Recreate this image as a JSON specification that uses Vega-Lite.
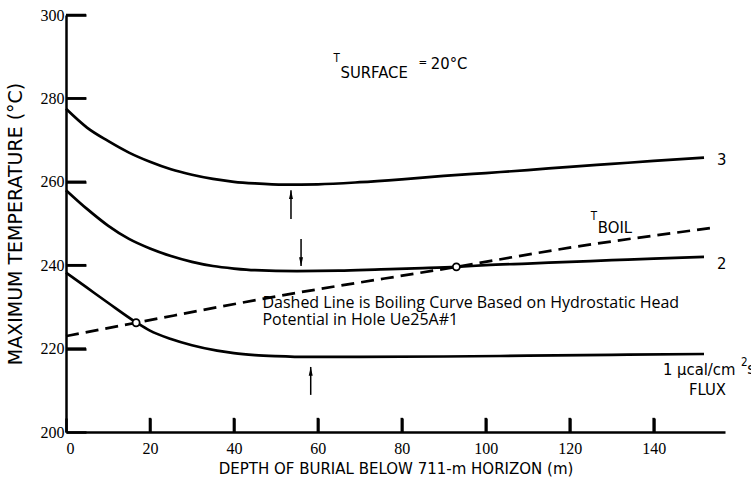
{
  "$schema": "https://vega.github.io/schema/vega-lite/v6.json",
  "width": 659,
  "height": 417,
  "autosize": {"type": "none"},
  "padding": {"left": 66, "top": 15, "right": 26, "bottom": 51},
  "background": "white",
  "config": {
    "view": {"stroke": null},
    "font": "DejaVu Sans Condensed",
    "axis": {
      "grid": false,
      "ticks": true,
      "domainColor": "black",
      "domainWidth": 2.5,
      "tickColor": "black",
      "tickWidth": 2.5,
      "tickOpacity": 1,
      "labelColor": "black",
      "titleColor": "black",
      "labelFont": "Liberation Sans Narrow",
      "titleFont": "DejaVu Sans",
      "labelFontSize": 16,
      "titleFontWeight": "normal"
    }
  },
  "datasets": {
    "curves": [
      {"depth": 0, "temp": 277.5, "series": "3"},
      {"depth": 5, "temp": 273.0, "series": "3"},
      {"depth": 10, "temp": 269.8, "series": "3"},
      {"depth": 15, "temp": 267.0, "series": "3"},
      {"depth": 20, "temp": 264.8, "series": "3"},
      {"depth": 25, "temp": 263.0, "series": "3"},
      {"depth": 30, "temp": 261.7, "series": "3"},
      {"depth": 35, "temp": 260.7, "series": "3"},
      {"depth": 40, "temp": 260.0, "series": "3"},
      {"depth": 45, "temp": 259.6, "series": "3"},
      {"depth": 52, "temp": 259.3, "series": "3"},
      {"depth": 60, "temp": 259.4, "series": "3"},
      {"depth": 70, "temp": 259.9, "series": "3"},
      {"depth": 80, "temp": 260.6, "series": "3"},
      {"depth": 90, "temp": 261.4, "series": "3"},
      {"depth": 100, "temp": 262.1, "series": "3"},
      {"depth": 110, "temp": 262.8, "series": "3"},
      {"depth": 120, "temp": 263.6, "series": "3"},
      {"depth": 130, "temp": 264.3, "series": "3"},
      {"depth": 140, "temp": 265.0, "series": "3"},
      {"depth": 152, "temp": 265.8, "series": "3"},
      {"depth": 0, "temp": 258.0, "series": "2"},
      {"depth": 5, "temp": 253.5, "series": "2"},
      {"depth": 10, "temp": 249.5, "series": "2"},
      {"depth": 15, "temp": 246.3, "series": "2"},
      {"depth": 20, "temp": 244.0, "series": "2"},
      {"depth": 25, "temp": 242.2, "series": "2"},
      {"depth": 30, "temp": 240.8, "series": "2"},
      {"depth": 35, "temp": 239.8, "series": "2"},
      {"depth": 40, "temp": 239.2, "series": "2"},
      {"depth": 45, "temp": 238.8, "series": "2"},
      {"depth": 55, "temp": 238.6, "series": "2"},
      {"depth": 65, "temp": 238.7, "series": "2"},
      {"depth": 75, "temp": 239.0, "series": "2"},
      {"depth": 85, "temp": 239.3, "series": "2"},
      {"depth": 93, "temp": 239.6, "series": "2"},
      {"depth": 100, "temp": 240.0, "series": "2"},
      {"depth": 110, "temp": 240.4, "series": "2"},
      {"depth": 120, "temp": 240.8, "series": "2"},
      {"depth": 130, "temp": 241.2, "series": "2"},
      {"depth": 140, "temp": 241.6, "series": "2"},
      {"depth": 152, "temp": 242.0, "series": "2"},
      {"depth": 0, "temp": 238.2, "series": "1"},
      {"depth": 5, "temp": 234.6, "series": "1"},
      {"depth": 10, "temp": 231.0, "series": "1"},
      {"depth": 16.7, "temp": 226.3, "series": "1"},
      {"depth": 20, "temp": 224.3, "series": "1"},
      {"depth": 25, "temp": 222.3, "series": "1"},
      {"depth": 30, "temp": 220.8, "series": "1"},
      {"depth": 36, "temp": 219.5, "series": "1"},
      {"depth": 40, "temp": 218.9, "series": "1"},
      {"depth": 45, "temp": 218.45, "series": "1"},
      {"depth": 50, "temp": 218.2, "series": "1"},
      {"depth": 58, "temp": 218.0, "series": "1"},
      {"depth": 70, "temp": 218.0, "series": "1"},
      {"depth": 90, "temp": 218.1, "series": "1"},
      {"depth": 110, "temp": 218.3, "series": "1"},
      {"depth": 130, "temp": 218.5, "series": "1"},
      {"depth": 152, "temp": 218.7, "series": "1"},
      {"depth": 0, "temp": 223.0, "series": "boil"},
      {"depth": 16.7, "temp": 226.2, "series": "boil"},
      {"depth": 50, "temp": 232.5, "series": "boil"},
      {"depth": 93, "temp": 239.6, "series": "boil"},
      {"depth": 120, "temp": 244.2, "series": "boil"},
      {"depth": 153.6, "temp": 248.9, "series": "boil"}
    ],
    "crossings": [
      {"depth": 16.7, "temp": 226.2},
      {"depth": 93, "temp": 239.6}
    ],
    "arrows": [
      {"depth": 53.6, "from": 251.1, "to": 258.0, "dir": "up"},
      {"depth": 56, "from": 246.3, "to": 239.8, "dir": "down"},
      {"depth": 58.3, "from": 208.9, "to": 215.6, "dir": "up"}
    ],
    "yticks": [{"v": 220}, {"v": 240}, {"v": 260}, {"v": 280}, {"v": 300}],
    "xticks": [{"v": 20}, {"v": 40}, {"v": 60}, {"v": 80}, {"v": 100}, {"v": 120}, {"v": 140}],
    "notes": [
      {"x": 65.4, "y": 284.9, "label": "SURFACE", "kind": "main"},
      {"x": 86.9, "y": 287.0, "label": "20°C", "kind": "main"},
      {"x": 126.7, "y": 247.7, "label": "BOIL", "kind": "main"},
      {"x": 142.2, "y": 213.7, "label": "1 μcal/cm", "kind": "main"},
      {"x": 162.3, "y": 213.9, "label": "s", "kind": "main"},
      {"x": 148.4, "y": 208.9, "label": "FLUX", "kind": "main"},
      {"x": 155.1, "y": 264.0, "label": "3", "kind": "main"},
      {"x": 155.1, "y": 239.1, "label": "2", "kind": "main"},
      {"x": 63.7, "y": 288.7, "label": "T", "kind": "small"},
      {"x": 84.0, "y": 287.8, "label": "=", "kind": "small"},
      {"x": 125.0, "y": 250.8, "label": "T", "kind": "small"},
      {"x": 160.8, "y": 215.8, "label": "2", "kind": "small"},
      {"x": 46.8, "y": 229.8, "label": "Dashed Line is Boiling Curve Based on Hydrostatic Head", "kind": "para"},
      {"x": 46.8, "y": 225.6, "label": "Potential in Hole Ue25A#1", "kind": "para"}
    ]
  },
  "layer": [
    {
      "data": {"name": "curves"},
      "transform": [{"filter": "datum.series != 'boil'"}],
      "mark": {"type": "line", "color": "black", "strokeWidth": 2.7, "interpolate": "monotone"},
      "encoding": {
        "x": {
          "field": "depth", "type": "quantitative",
          "scale": {"domain": [0, 157], "nice": false, "zero": false},
          "axis": {
            "values": [0, 20, 40, 60, 80, 100, 120, 140],
            "tickSize": -14,
            "labelPadding": 22,
            "title": "DEPTH OF BURIAL BELOW 711-m HORIZON  (m)",
            "titleFontSize": 15,
            "titlePadding": 5
          }
        },
        "y": {
          "field": "temp", "type": "quantitative",
          "scale": {"domain": [200, 300], "nice": false, "zero": false},
          "axis": {
            "values": [200, 220, 240, 260, 280, 300],
            "tickSize": -20,
            "labelPadding": 22,
            "title": "MAXIMUM TEMPERATURE (°C)",
            "titleFontSize": 19,
            "titlePadding": 15
          }
        },
        "detail": {"field": "series"}
      }
    },
    {
      "data": {"name": "yticks"},
      "mark": {"type": "tick", "orient": "horizontal", "color": "black", "size": 20, "thickness": 2.5, "xOffset": 10, "opacity": 1},
      "encoding": {
        "x": {"datum": 0, "type": "quantitative"},
        "y": {"field": "v", "type": "quantitative"}
      }
    },
    {
      "data": {"name": "xticks"},
      "mark": {"type": "rule", "color": "black", "strokeWidth": 2.5, "opacity": 1},
      "encoding": {
        "x": {"field": "v", "type": "quantitative"},
        "y": {"datum": 200, "type": "quantitative"},
        "y2": {"datum": 203.4}
      }
    },
    {
      "data": {"name": "curves"},
      "transform": [{"filter": "datum.series == 'boil'"}],
      "mark": {"type": "line", "color": "black", "strokeWidth": 2.7, "strokeDash": [13, 7], "interpolate": "monotone"},
      "encoding": {
        "x": {"field": "depth", "type": "quantitative"},
        "y": {"field": "temp", "type": "quantitative"}
      }
    },
    {
      "data": {"name": "crossings"},
      "mark": {"type": "point", "shape": "circle", "filled": true, "fill": "white", "stroke": "black", "strokeWidth": 1.8, "size": 50, "opacity": 1},
      "encoding": {
        "x": {"field": "depth", "type": "quantitative"},
        "y": {"field": "temp", "type": "quantitative"}
      }
    },
    {
      "data": {"name": "arrows"},
      "mark": {"type": "rule", "color": "black", "strokeWidth": 1.5},
      "encoding": {
        "x": {"field": "depth", "type": "quantitative"},
        "y": {"field": "from", "type": "quantitative"},
        "y2": {"field": "to"}
      }
    },
    {
      "data": {"name": "arrows"},
      "mark": {"type": "point", "filled": true, "color": "black", "size": 64, "opacity": 1},
      "encoding": {
        "x": {"field": "depth", "type": "quantitative"},
        "y": {"field": "to", "type": "quantitative"},
        "shape": {
          "field": "dir", "type": "nominal",
          "scale": {"domain": ["up", "down"], "range": ["M0,0L-0.5,2.2L0.5,2.2Z", "M0,0L-0.5,-2.2L0.5,-2.2Z"]},
          "legend": null
        }
      }
    },
    {
      "data": {"name": "notes"},
      "transform": [{"filter": "datum.kind == 'main'"}],
      "mark": {"type": "text", "align": "left", "baseline": "alphabetic", "font": "DejaVu Sans Condensed", "fontSize": 16.5, "color": "black"},
      "encoding": {
        "x": {"field": "x", "type": "quantitative"},
        "y": {"field": "y", "type": "quantitative"},
        "text": {"field": "label"}
      }
    },
    {
      "data": {"name": "notes"},
      "transform": [{"filter": "datum.kind == 'small'"}],
      "mark": {"type": "text", "align": "left", "baseline": "alphabetic", "font": "DejaVu Sans Condensed", "fontSize": 11.5, "color": "black"},
      "encoding": {
        "x": {"field": "x", "type": "quantitative"},
        "y": {"field": "y", "type": "quantitative"},
        "text": {"field": "label"}
      }
    },
    {
      "data": {"name": "notes"},
      "transform": [{"filter": "datum.kind == 'para'"}],
      "mark": {"type": "text", "align": "left", "baseline": "alphabetic", "font": "Open Sans", "fontSize": 16, "color": "black"},
      "encoding": {
        "x": {"field": "x", "type": "quantitative"},
        "y": {"field": "y", "type": "quantitative"},
        "text": {"field": "label"}
      }
    }
  ]
}
